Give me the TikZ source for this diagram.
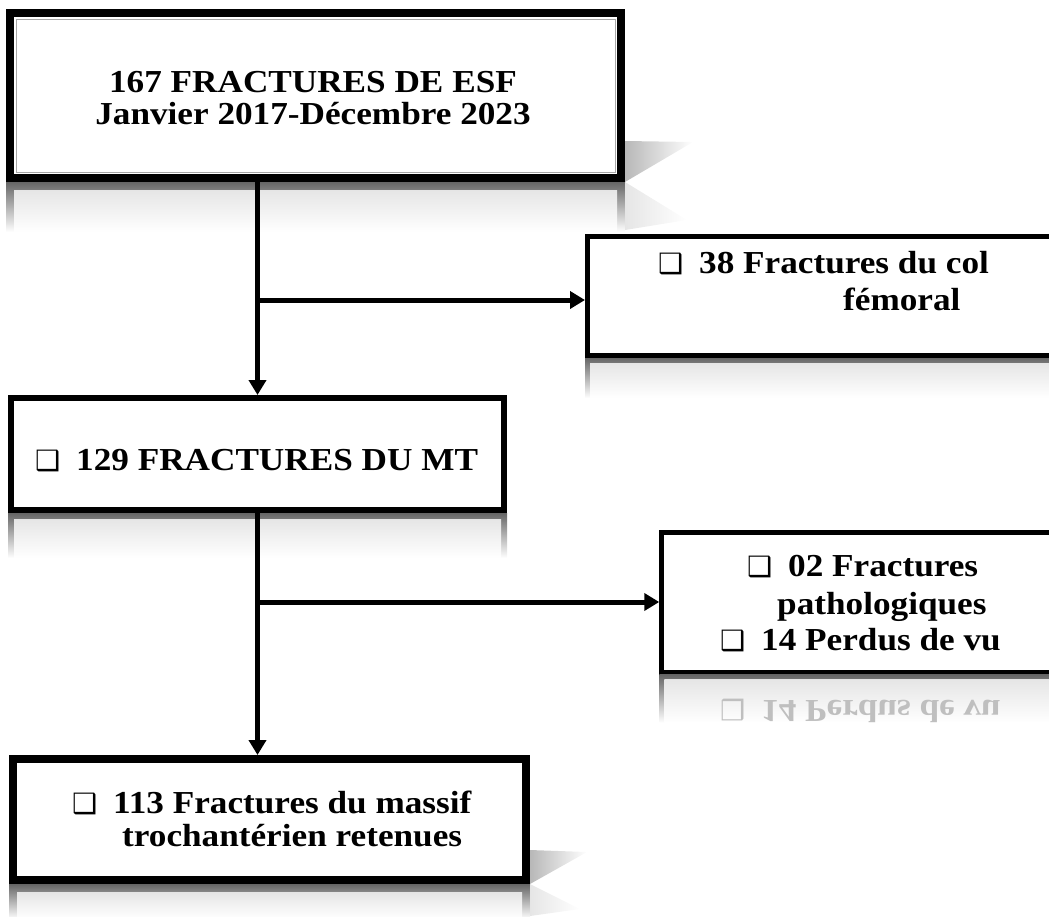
\documentclass[tikz,border=0pt]{standalone}
\usepackage{fontspec}
\setmainfont{Liberation Serif}[FakeStretch=1.1]
\newfontfamily\symf{DejaVu Sans}
\usetikzlibrary{arrows.meta,calc}
\newcommand\chk{\makebox[41pt][l]{\symf\fontsize{28}{28}\selectfont ❑}}
% reflection under a box: node, height, border width
\newcommand\mirrorbox[3]{%
  \shade[top color=black!60, bottom color=white] (#1.south west) rectangle ($(#1.south east)+(0,#2)$);
  \shade[top color=black!10, bottom color=white] ($(#1.south west)+(#3,#3)$) rectangle ($(#1.south east)+(-#3,#2)$);}

\begin{document}
\begin{tikzpicture}[x=1pt, y=-1pt,
  box/.style={draw, fill=white, line width=#1, inner sep=0pt},
  txt/.style={inner sep=0pt, font=\fontsize{32}{32}\selectfont\bfseries},
  arr/.style={line width=5pt, -{Triangle[length=15pt,width=17pt]}}
]
  \useasboundingbox (0,0) rectangle (1049,916);
  \clip (0,0) rectangle (1049,916);

  % boxes
  \node[box=8pt, minimum width=611pt, minimum height=165pt] (esf) at (315.5,95.5) {};
  \node[box=5pt, minimum width=482.5pt, minimum height=119pt] (col) at (828.75,296) {};
  \node[box=6pt, minimum width=493pt, minimum height=112pt] (mt) at (257.5,454) {};
  \node[box=5pt, minimum width=408pt, minimum height=139.5pt] (path) at (865.75,602.5) {};
  \node[box=8pt, minimum width=513pt, minimum height=121pt] (ret) at (269.5,819.5) {};
  \draw[black!35, line width=0.8pt] ($(esf.north west)+(10,10)$) rectangle ($(esf.south east)+(-10,-10)$);

  % reflections and shadows
  \mirrorbox{esf}{50}{8}
  \mirrorbox{col}{40}{5}
  \mirrorbox{mt}{45}{6}
  \mirrorbox{path}{48}{5}
  \mirrorbox{ret}{35}{8}
  \shade[left color=black!28, right color=white] ($(esf.north east)+(0,132)$) -- ++(68,1) -- (esf.south east) -- cycle;
  \shade[left color=black!10, right color=white] (esf.south east) -- ++(62,38) -- ++(-62,10) -- cycle;
  \shade[left color=black!28, right color=white] ($(ret.north east)+(0,95)$) -- ++(57,2) -- (ret.south east) -- cycle;
  \shade[left color=black!10, right color=white] (ret.south east) -- ++(50,25) -- ++(-50,7) -- cycle;

  % connectors
  \coordinate (j1) at (257.5,300);
  \coordinate (j2) at (257.5,602);
  \draw[arr] (esf.south -| j1) -- (mt.north);
  \draw[arr] (j1) -- (col.west |- j1);
  \draw[arr] (mt.south) -- (mt.south |- ret.north);
  \draw[arr] (j2) -- (path.west |- j2);

  % texts
  \foreach \a/\x/\y/\t [count=\i] in {
    base/313/92/{167 FRACTURES DE ESF},
    base/313/124/{Janvier 2017-Décembre 2023},
    base west/658/273/{\chk 38 Fractures du col},
    base west/843/310/{fémoral},
    base west/35/470/{\chk 129 FRACTURES DU MT},
    base west/747/576/{\chk 02 Fractures},
    base west/777/614/{pathologiques},
    base west/720/650/{\chk 14 Perdus de vu},
    base west/72/813/{\chk 113 Fractures du massif},
    base west/122/846/{trochantérien retenues}}
    {\node[txt, anchor=\a] (t\i) at (\x,\y) {\t};}
  \begin{scope}[shift={(720,700)}, yscale=-1]
    \node[txt, anchor=base west, transform shape, text=black!25] (t11) at (0,0) {\chk 14 Perdus de vu};
  \end{scope}
\end{tikzpicture}
\end{document}
